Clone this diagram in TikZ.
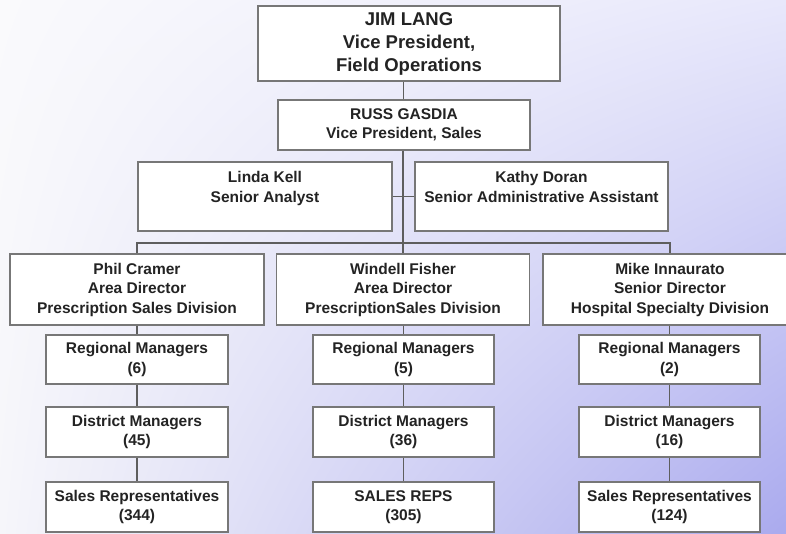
\documentclass[tikz,border=0pt]{standalone}
\usepackage{fontspec}
\setmainfont{Liberation Sans}
\usetikzlibrary{calc,shadings}
\definecolor{txt}{HTML}{232323}
\definecolor{edge}{HTML}{777777}
\definecolor{wire}{HTML}{5E5E5E}
\definecolor{bgA}{RGB}{250,250,252}
\definecolor{bgB}{RGB}{232,232,251}
\definecolor{bgC}{RGB}{246,246,250}
\definecolor{bgD}{RGB}{170,170,238}
\tikzset{
  orgbox/.style={draw=edge, line width=1.4pt, fill=white, text=txt, align=center,
    inner sep=0pt, font=\bfseries\fontsize{15.5}{19.5}\selectfont},
  link/.style={draw=wire, line width=1.2pt},
}
\begin{document}
\begin{tikzpicture}[x=1pt, y=-1pt]
  % backdrop
  \shade[upper left=bgA, upper right=bgB, lower left=bgC, lower right=bgD]
    (0,0) rectangle (786,533);
  \useasboundingbox (0,0) rectangle (786,533);

  % executive level
  \node[orgbox, minimum width=302pt, minimum height=75pt,
        font=\bfseries\fontsize{18.5}{23}\selectfont] (jim) at (409,43.5)
    {JIM LANG\\Vice President,\\Field Operations};
  \node[orgbox, minimum width=252pt, minimum height=50pt] (russ) at (404,125)
    {RUSS GASDIA\\Vice President, Sales};

  % staff
  \node[orgbox, minimum width=254pt, minimum height=69pt] (linda) at (265,196.5)
    {Linda Kell\\Senior Analyst\\\mbox{}};
  \node[orgbox, minimum width=253pt, minimum height=69pt] (kathy) at (541.5,196.5)
    {Kathy Doran\\Senior Administrative Assistant\\\mbox{}};

  % divisions
  \node[orgbox, minimum width=254pt, minimum height=71pt] (phil) at (137,289.5)
    {Phil Cramer\\Area Director\\Prescription Sales Division};
  \node[orgbox, minimum width=253pt, minimum height=71pt] (windell) at (403,289.5)
    {Windell Fisher\\Area Director\\PrescriptionSales Division};
  \node[orgbox, minimum width=254pt, minimum height=71pt] (mike) at (670,289.5)
    {Mike Innaurato\\Senior Director\\Hospital Specialty Division};

  % field levels
  \node[orgbox, minimum width=182pt, minimum height=49pt] (rmA) at (137,359.5) {Regional Managers\\(6)};
  \node[orgbox, minimum width=182pt, minimum height=50pt] (dmA) at (137,432) {District Managers\\(45)};
  \node[orgbox, minimum width=182pt, minimum height=50pt] (srA) at (137,507) {Sales Representatives\\(344)};

  \node[orgbox, minimum width=181pt, minimum height=49pt] (rmB) at (403.5,359.5) {Regional Managers\\(5)};
  \node[orgbox, minimum width=181pt, minimum height=50pt] (dmB) at (403.5,432) {District Managers\\(36)};
  \node[orgbox, minimum width=181pt, minimum height=50pt] (srB) at (403.5,507) {SALES REPS\\(305)};

  \node[orgbox, minimum width=181pt, minimum height=49pt] (rmC) at (669.5,359.5) {Regional Managers\\(2)};
  \node[orgbox, minimum width=181pt, minimum height=50pt] (dmC) at (669.5,432) {District Managers\\(16)};
  \node[orgbox, minimum width=181pt, minimum height=50pt] (srC) at (669.5,507) {Sales Representatives\\(124)};

  % connectors
  \coordinate (bus) at (403,243);
  \coordinate (busL) at (phil.north |- bus);
  \coordinate (busR) at (mike.north |- bus);
  \draw[link] ($(russ.north)+(-0.5,0)$) -- ($(russ.north |- jim.south)+(-0.5,0)$);
  \draw[link] (russ.south -| bus) -- (bus);
  \draw[link] (linda.east) -- (linda.east -| bus);
  \draw[link] (kathy.west) -- (kathy.west -| bus);
  \draw[link] (phil.north) -- (busL) -- (busR) -- (mike.north);
  \draw[link] (bus) -- (windell.north -| bus);

  \draw[link] (phil.south) -- (rmA.north);
  \draw[link] (rmA.south) -- (dmA.north);
  \draw[link] (dmA.south) -- (srA.north);
  \draw[link] (windell.south -| rmB) -- (rmB.north);
  \draw[link] (rmB.south) -- (dmB.north);
  \draw[link] (dmB.south) -- (srB.north);
  \draw[link] (mike.south -| rmC) -- (rmC.north);
  \draw[link] (rmC.south) -- (dmC.north);
  \draw[link] (dmC.south) -- (srC.north);
\end{tikzpicture}
\end{document}
